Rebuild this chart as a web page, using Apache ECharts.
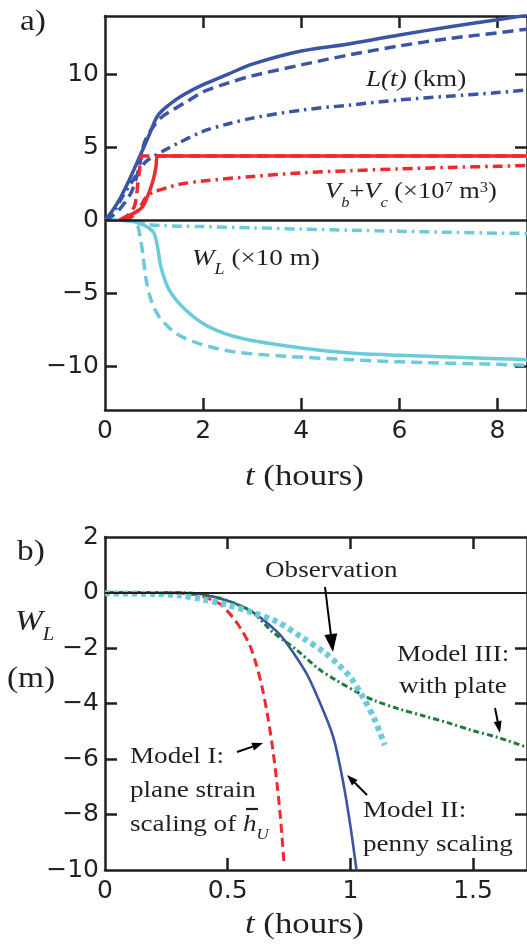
<!DOCTYPE html>
<html><head><meta charset="utf-8">
<script src="https://cdn.jsdelivr.net/npm/echarts@6/dist/echarts.min.js"></script>
<style>html,body{margin:0;padding:0;background:#fff;}#c{width:527px;height:947px;}</style>
</head><body><div id="c"></div>
<script>
// ---------- Panel a data (t in hours) ----------
const tA_Lsolid = [0, 0.15, 0.3, 0.45, 0.6, 0.77, 0.9, 1.07, 1.3, 1.6, 2, 2.5, 3, 4, 5, 6, 7, 8, 8.6];
const vA_Lsolid = [0, 0.65, 1.45, 2.45, 3.55, 4.85, 5.85, 7.15, 7.9, 8.6, 9.3, 10.0, 10.7, 11.6, 12.1, 12.7, 13.25, 13.75, 14.05];
const tA_Ldash = [0, 0.15, 0.29, 0.4, 0.53, 0.62, 0.7, 0.8, 0.94, 1.14, 1.4, 1.7, 2, 2.5, 3, 4, 5, 6, 7, 8, 8.6];
const vA_Ldash = [0, 0.3, 0.72, 1.2, 1.87, 2.7, 3.7, 5.3, 6.2, 7.03, 7.6, 8.2, 8.8, 9.4, 9.9, 10.65, 11.35, 11.95, 12.45, 12.85, 13.1];
const tA_Ldot = [0, 0.2, 0.36, 0.6, 0.8, 0.9, 1.24, 1.5, 2, 2.5, 3, 4, 5, 6, 7, 8, 8.6];
const vA_Ldot = [0, 0.7, 1.64, 2.9, 3.9, 4.2, 4.85, 5.3, 6.1, 6.6, 7.0, 7.55, 7.9, 8.25, 8.5, 8.75, 8.93];
const tA_Vsolid = [0.3, 0.36, 0.5, 0.65, 0.77, 0.85, 0.94, 1.0, 1.04, 1.07, 8.6];
const vA_Vsolid = [0, 0.12, 0.35, 0.6, 0.95, 1.5, 2.3, 3.0, 3.7, 4.4, 4.4];
const tA_Vdash = [0.3, 0.43, 0.52, 0.6, 0.64, 0.67, 0.7, 0.73, 0.76, 8.6];
const vA_Vdash = [0, 0.26, 0.55, 0.95, 1.6, 2.56, 3.4, 4.16, 4.4, 4.4];
const tA_Vdot = [0.4, 0.55, 0.7, 0.84, 1.0, 1.24, 1.5, 2, 3, 4, 5, 6, 7, 8, 8.6];
const vA_Vdot = [0, 0.25, 0.8, 1.6, 1.95, 2.2, 2.45, 2.7, 3.0, 3.25, 3.4, 3.52, 3.62, 3.7, 3.75];
const tA_Wsolid = [0, 0.3, 0.5, 0.65, 0.77, 0.9, 1.0, 1.07, 1.14, 1.31, 1.65, 2.12, 2.8, 4, 5, 6, 8, 8.6];
const vA_Wsolid = [0, 0, -0.05, -0.15, -0.3, -0.55, -0.88, -1.8, -3.2, -4.78, -6.16, -7.3, -8.1, -8.75, -9.1, -9.25, -9.48, -9.55];
const tA_Wdash = [0, 0.3, 0.5, 0.6, 0.67, 0.72, 0.77, 0.84, 0.94, 1.1, 1.45, 1.92, 2.6, 3.6, 5, 6, 8, 8.6];
const vA_Wdash = [0, 0, -0.05, -0.15, -0.42, -1.2, -2.26, -4.1, -5.47, -6.6, -7.76, -8.45, -9.0, -9.3, -9.55, -9.7, -9.87, -9.94];
const tA_Wdot = [0, 0.4, 0.6, 0.75, 0.9, 1.2, 1.5, 2, 3, 4, 5, 6, 7, 8, 8.6];
const vA_Wdot = [0, 0, -0.05, -0.15, -0.3, -0.36, -0.4, -0.43, -0.52, -0.6, -0.68, -0.75, -0.82, -0.88, -0.9];

// ---------- Panel b data (W_L in m) ----------
const tB_obs = [0, 0.2, 0.3, 0.4, 0.5, 0.6, 0.7, 0.8, 0.9, 0.95, 1.0, 1.05, 1.1, 1.14];
const vB_obs = [-0.03, -0.05, -0.1, -0.25, -0.45, -0.72, -1.05, -1.6, -2.2, -2.6, -3.05, -3.75, -4.6, -5.5];
const tB_m1 = [0, 0.2, 0.3, 0.38, 0.44, 0.47, 0.5, 0.53, 0.56, 0.59, 0.615, 0.64, 0.66, 0.68, 0.7, 0.715, 0.73];
const vB_m1 = [0, 0, -0.02, -0.1, -0.28, -0.42, -0.68, -1.0, -1.4, -1.9, -2.55, -3.4, -4.3, -5.4, -6.8, -8.1, -9.8];
const tB_m2 = [0, 0.3, 0.4, 0.5, 0.6, 0.7, 0.74, 0.82, 0.87, 0.93, 0.97, 1.0, 1.025];
const vB_m2 = [0, -0.01, -0.07, -0.3, -0.7, -1.4, -1.82, -2.9, -3.85, -5.2, -6.8, -8.4, -10];
const tB_m3 = [0, 0.3, 0.4, 0.5, 0.6, 0.68, 0.78, 0.87, 0.94, 1.03, 1.1, 1.2, 1.3, 1.4, 1.5, 1.6, 1.72];
const vB_m3 = [0, -0.01, -0.07, -0.3, -0.7, -1.4, -2.06, -2.75, -3.15, -3.6, -3.9, -4.2, -4.45, -4.7, -4.98, -5.22, -5.58];

// ---------- ticks ----------
const xTicksA = [2, 4, 6, 8], xLabelsA = [0, 2, 4, 6, 8];
const yTicksA = [-10, -5, 5, 10], yLabelsA = [-10, -5, 0, 5, 10];
const xTicksB = [0.5, 1, 1.5], xLabelsB = [0, 0.5, 1, 1.5];
const yTicksB = [-8, -6, -4, -2], yLabelsB = [-10, -8, -6, -4, -2, 0, 2];

const zip = (a, b) => a.map((v, i) => [v, b[i]]);
const K = '#231f20', BLUE = '#3a55a5', RED = '#ee2a2f', CYAN = '#6ccbdb', GREEN = '#1b7d3b';
const minus = v => (v < 0 ? '\u2212' : '') + Math.abs(v);

function axis(pos, grid, min, max, ticks, labels) {
  const a = {
    type: 'value', gridIndex: grid, position: pos, min: min, max: max,
    axisLine: { show: true, onZero: false, lineStyle: { color: K, width: 2.5 } },
    splitLine: { show: false },
    axisTick: { show: true, inside: true, length: 12, customValues: ticks, lineStyle: { color: K, width: 2.5 } },
    axisLabel: { show: false }
  };
  if (labels) {
    a.axisLabel = { show: true, customValues: labels, formatter: minus, color: K,
      fontFamily: 'DejaVu Sans', fontSize: 25, margin: (pos === 'left' ? 6 : 9) };
  }
  return a;
}

function line(name, xi, t, v, color, width, dash, z) {
  return { name: name, type: 'line', xAxisIndex: xi, yAxisIndex: xi, data: zip(t, v),
    showSymbol: false, symbol: 'none', smooth: 0.3, z: z || 2,
    lineStyle: { color: color, width: width, type: dash || 'solid', cap: 'butt', join: 'round' } };
}

// ---------- text helpers (annotations) ----------
const SERIF = 'Liberation Serif';
const mctx = document.createElement('canvas').getContext('2d');
function tw(t, size, it) { mctx.font = (it ? 'italic ' : '') + size + 'px "' + SERIF + '"'; return mctx.measureText(t).width; }
function row(x, yc, pieces, sx) {
  const els = []; let cx = x;
  for (const [t, size, it, dy] of pieces) {
    els.push({ type: 'text', x: cx, y: yc + dy, scaleX: sx, z: 100,
      style: { text: t, fontSize: size, fontFamily: SERIF, fontStyle: it ? 'italic' : 'normal',
        fill: K, align: 'left', verticalAlign: 'middle' } });
    cx += tw(t, size, it) * sx;
  }
  return els;
}
function arrow(x1, y1, x2, y2, hl, hw) {
  const a = Math.atan2(y2 - y1, x2 - x1);
  const bx = x2 - hl * Math.cos(a), by = y2 - hl * Math.sin(a);
  const px = -Math.sin(a) * hw / 2, py = Math.cos(a) * hw / 2;
  return [
    { type: 'line', z: 100, shape: { x1: x1, y1: y1, x2: bx, y2: by }, style: { stroke: '#000', lineWidth: 2 } },
    { type: 'polygon', z: 100, shape: { points: [[x2, y2], [bx + px, by + py], [bx - px, by - py]] }, style: { fill: '#000' } }
  ];
}

const S = 1.13, F = 24;
let g = [];
g = g.concat(row(20, 22, [['a)', 29, false, 0]], 1.15));
g = g.concat(row(366, 80, [['L(t)', F, true, 0], [' (km)', F, false, 0]], S));
g = g.concat(row(325, 192, [['V', F, true, 0], ['b', 15, true, 11], ['+', F, false, 0], ['V', F, true, 0], ['c', 15, true, 11],
  [' (\u00d710', F, false, 0], ['7', 15, false, -4], [' m', F, false, 0], ['3', 15, false, -4], [')', F, false, 0]], 1.1));
g = g.concat(row(192, 259, [['W', F, true, 0], ['L', 16, true, 11], [' (\u00d710 m)', F, false, 0]], S));
g = g.concat(row(245, 477, [['t', 29, true, 0], [' (hours)', 29, false, 0]], 1.2));

g = g.concat(row(17, 552, [['b)', 29, false, 0]], 1.15));
g = g.concat(row(15, 622, [['W', 29, true, 0], ['L', 18, true, 13]], 1.15));
g = g.concat(row(7, 679, [['(m)', 29, false, 0]], 1.15));
g = g.concat(row(265, 571, [['Observation', F, false, 0]], S));
g = g.concat(row(397, 655, [['Model III:', F, false, 0]], S));
g = g.concat(row(399, 687, [['with plate', F, false, 0]], S));
g = g.concat(row(130, 757, [['Model I:', F, false, 0]], S));
g = g.concat(row(130, 791, [['plane strain', F, false, 0]], S));
const scal = row(130, 825, [['scaling of ', F, false, 0], ['h', F, true, 0], ['U', 15, true, 10]], S);
g = g.concat(scal);
const hx = scal[1].x;
g.push({ type: 'line', z: 100, shape: { x1: hx + 3, y1: 809, x2: hx + 15, y2: 809 }, style: { stroke: K, lineWidth: 2.2 } });
g = g.concat(row(363, 811, [['Model II:', F, false, 0]], S));
g = g.concat(row(363, 845, [['penny scaling', F, false, 0]], S));
g = g.concat(row(245, 925, [['t', 29, true, 0], [' (hours)', 29, false, 0]], 1.2));

g = g.concat(arrow(325, 587, 333, 652, 18, 13));
g = g.concat(arrow(495, 708, 500, 733, 12, 8));
g = g.concat(arrow(237, 752, 263, 743, 11, 8));
g = g.concat(arrow(367, 795, 347, 775, 11, 8));

const chart = echarts.init(document.getElementById('c'), null, { renderer: 'canvas', width: 527, height: 947 });
const zeroLine = w => ({ silent: true, symbol: 'none', label: { show: false }, lineStyle: { color: K, width: w, type: 'solid' }, data: [{ yAxis: 0 }] });

const sA1 = line('L solid', 0, tA_Lsolid, vA_Lsolid, BLUE, 3.5);
sA1.markLine = zeroLine(2.5);
const sB1 = line('Model I', 2, tB_m1, vB_m1, RED, 3, [9, 5]);
sB1.markLine = zeroLine(1.8);

chart.setOption({
  animation: false,
  backgroundColor: '#fff',
  grid: [
    { left: 105, top: 16, width: 424, height: 394 },
    { left: 105, top: 537, width: 424, height: 333 }
  ],
  xAxis: [
    axis('bottom', 0, 0, 8.6, xTicksA, xLabelsA),
    axis('top', 0, 0, 8.6, xTicksA, null),
    axis('bottom', 1, 0, 1.72, xTicksB, xLabelsB),
    axis('top', 1, 0, 1.72, xTicksB, null)
  ],
  yAxis: [
    axis('left', 0, -13, 14, yTicksA, yLabelsA),
    axis('right', 0, -13, 14, yTicksA, null),
    axis('left', 1, -10, 2, yTicksB, yLabelsB),
    axis('right', 1, -10, 2, yTicksB, null)
  ],
  series: [
    line('W dashdot', 0, tA_Wdot, vA_Wdot, CYAN, 3.5, [10, 5, 2.5, 5]),
    line('W dash', 0, tA_Wdash, vA_Wdash, CYAN, 3.5, [11, 6]),
    line('W solid', 0, tA_Wsolid, vA_Wsolid, CYAN, 3.5),
    line('L dashdot', 0, tA_Ldot, vA_Ldot, BLUE, 3.5, [10, 5, 2.5, 5]),
    line('L dash', 0, tA_Ldash, vA_Ldash, BLUE, 3.5, [11, 6]),
    sA1,
    line('V dashdot', 0, tA_Vdot, vA_Vdot, RED, 3.5, [10, 5, 2.5, 5]),
    line('V dash', 0, tA_Vdash, vA_Vdash, RED, 3.5, [11, 6]),
    line('V solid', 0, tA_Vsolid, vA_Vsolid, RED, 3.5),
    sB1,
    line('Model II', 2, tB_m2, vB_m2, BLUE, 2.6),
    line('Model III', 2, tB_m3, vB_m3, GREEN, 3, [6, 3, 2, 3]),
    line('Observation', 2, tB_obs, vB_obs, CYAN, 6, [5, 4], 3)
  ],
  graphic: g
});
</script></body></html>
